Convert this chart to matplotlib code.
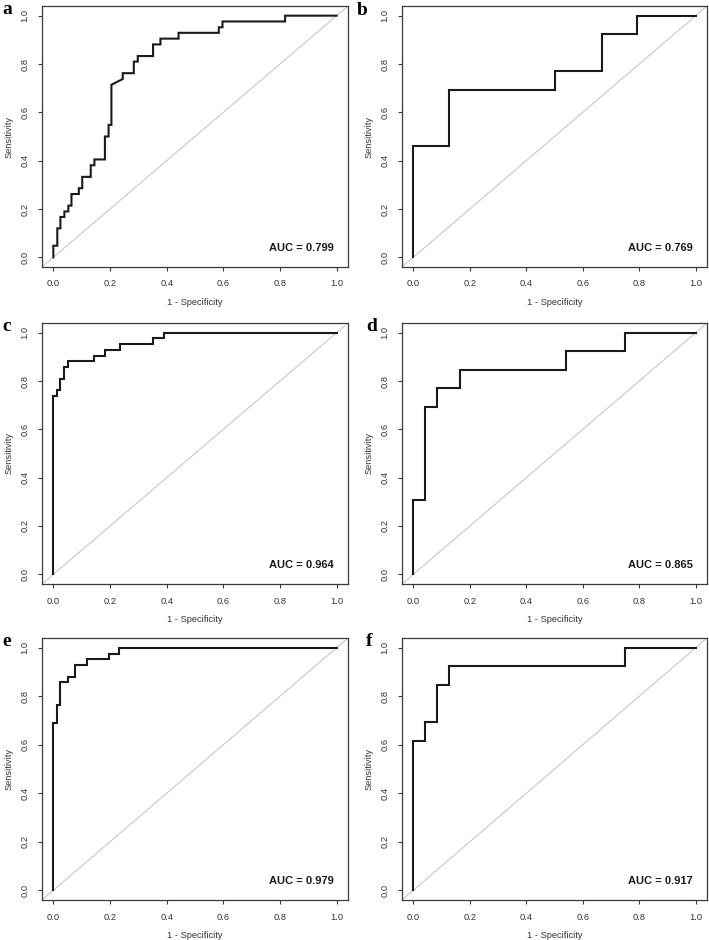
import numpy as np
import matplotlib.pyplot as plt
import matplotlib as mpl

mpl.rcParams['font.family'] = ['Liberation Sans', 'DejaVu Sans']

# ROC vertices (1 - specificity, sensitivity)
fpr_a = [0, 0, 0.014, 0.014, 0.025, 0.025, 0.039, 0.039, 0.053, 0.053, 0.064, 0.064,
         0.090, 0.090, 0.102, 0.102, 0.132, 0.132, 0.145, 0.145, 0.182, 0.182, 0.195, 0.195,
         0.205, 0.205, 0.245, 0.245, 0.284, 0.284, 0.298, 0.298, 0.352, 0.352, 0.378, 0.378,
         0.442, 0.442, 0.584, 0.584, 0.597, 0.597, 0.818, 0.818, 1.0]
tpr_a = [0, 0.048, 0.048, 0.120, 0.120, 0.167, 0.167, 0.190, 0.190, 0.214, 0.214, 0.262,
         0.262, 0.286, 0.286, 0.333, 0.333, 0.381, 0.381, 0.405, 0.405, 0.500, 0.500, 0.548,
         0.548, 0.714, 0.738, 0.762, 0.762, 0.810, 0.810, 0.833, 0.833, 0.881, 0.881, 0.905,
         0.905, 0.929, 0.929, 0.952, 0.952, 0.976, 0.976, 1.0, 1.0]

fpr_b = [0, 0, 0.125, 0.125, 0.500, 0.500, 0.667, 0.667, 0.792, 0.792, 1.0]
tpr_b = [0, 0.462, 0.462, 0.692, 0.692, 0.769, 0.769, 0.923, 0.923, 1.0, 1.0]

fpr_c = [0, 0, 0.013, 0.013, 0.025, 0.025, 0.039, 0.039, 0.053, 0.053, 0.143, 0.143,
         0.184, 0.184, 0.236, 0.236, 0.351, 0.351, 0.389, 0.389, 1.0]
tpr_c = [0, 0.738, 0.738, 0.762, 0.762, 0.810, 0.810, 0.857, 0.857, 0.881, 0.881, 0.905,
         0.905, 0.929, 0.929, 0.952, 0.952, 0.976, 0.976, 1.0, 1.0]

fpr_d = [0, 0, 0.042, 0.042, 0.083, 0.083, 0.167, 0.167, 0.542, 0.542, 0.750, 0.750, 1.0]
tpr_d = [0, 0.308, 0.308, 0.692, 0.692, 0.769, 0.769, 0.846, 0.846, 0.923, 0.923, 1.0, 1.0]

fpr_e = [0, 0, 0.013, 0.013, 0.024, 0.024, 0.052, 0.052, 0.077, 0.077, 0.118, 0.118,
         0.195, 0.195, 0.232, 0.232, 1.0]
tpr_e = [0, 0.690, 0.690, 0.762, 0.762, 0.857, 0.857, 0.881, 0.881, 0.929, 0.929, 0.952,
         0.952, 0.976, 0.976, 1.0, 1.0]

fpr_f = [0, 0, 0.042, 0.042, 0.083, 0.083, 0.125, 0.125, 0.750, 0.750, 1.0]
tpr_f = [0, 0.615, 0.615, 0.692, 0.692, 0.846, 0.846, 0.923, 0.923, 1.0, 1.0]

auc_values = [0.799, 0.769, 0.964, 0.865, 0.979, 0.917]
panel_letters = ['a', 'b', 'c', 'd', 'e', 'f']
curves = [(fpr_a, tpr_a), (fpr_b, tpr_b), (fpr_c, tpr_c),
          (fpr_d, tpr_d), (fpr_e, tpr_e), (fpr_f, tpr_f)]
ticks = [0.0, 0.2, 0.4, 0.6, 0.8, 1.0]

W, H = 709, 940
fig = plt.figure(figsize=(W / 100, H / 100), dpi=100)

# axes boxes in pixels: left, top, right, bottom
col_px = [(42, 348), (402, 707)]
row_px = [(6, 267), (323, 584), (638, 900)]
# panel letter positions (left x, baseline y) in pixels
letter_px = [(2, 14), (357, 15), (2, 331), (366, 331), (2, 646), (366, 646)]

box_col = '#3a3a3a'

for i in range(6):
    r, c = divmod(i, 2)
    l, rr = col_px[c]
    t, b = row_px[r]
    ax = fig.add_axes([l / W, 1 - b / H, (rr - l) / W, (b - t) / H])
    ax.set_xlim(-0.04, 1.04)
    ax.set_ylim(-0.04, 1.04)

    ax.plot([-0.04, 1.04], [-0.04, 1.04], color='#c8c8c8', lw=0.8, zorder=1)
    fpr, tpr = curves[i]
    ax.plot(fpr, tpr, color='#1a1a1a', lw=1.5, zorder=2, solid_joinstyle='miter')

    ax.text(0.99, 0.04, 'AUC = %.3f' % auc_values[i], ha='right', va='center',
            fontsize=8, fontweight='bold', color='#1a1a1a')

    ax.set_xticks(ticks)
    ax.set_yticks(ticks)
    ax.set_xticklabels(['%.1f' % v for v in ticks])
    ax.set_yticklabels(['%.1f' % v for v in ticks], rotation=90, va='center')
    ax.tick_params(direction='out', length=3, width=0.8, color=box_col,
                   labelsize=6.7, labelcolor='#333333', pad=6)
    for sp in ax.spines.values():
        sp.set_color(box_col)
        sp.set_linewidth(0.9)
    ax.set_xlabel('1 - Specificity', fontsize=6.7, color='#333333', labelpad=7)
    ax.set_ylabel('Sensitivity', fontsize=6.7, color='#333333', labelpad=5)

    lx, ly = letter_px[i]
    fig.text(lx / W, 1 - ly / H, panel_letters[i], fontsize=14, fontweight='bold',
             family='Liberation Serif', ha='left', va='baseline')

fig.savefig('out.png', dpi=100, facecolor='white')
